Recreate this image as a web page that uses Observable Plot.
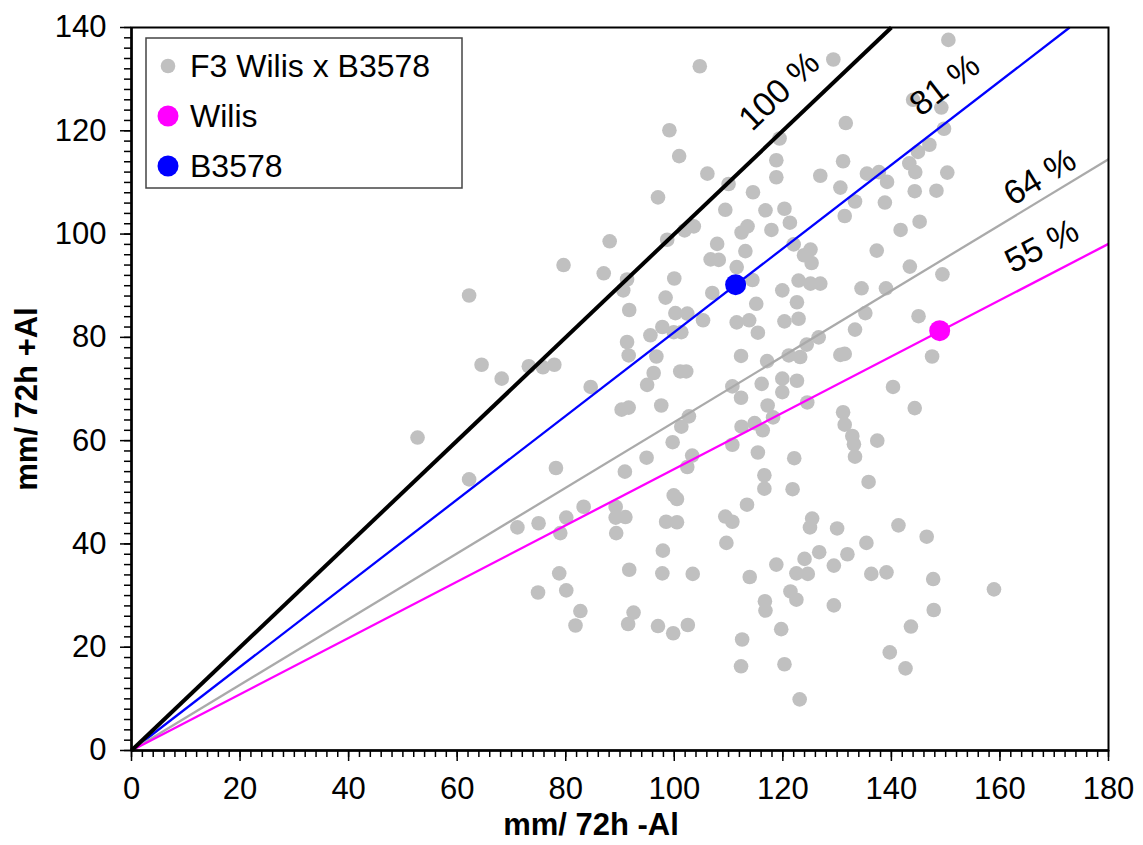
<!DOCTYPE html>
<html><head><meta charset="utf-8">
<script src="https://cdn.jsdelivr.net/npm/d3@7"></script>
<script src="https://cdn.jsdelivr.net/npm/@observablehq/plot@0.6"></script>
<style>body{margin:0;background:#fff;} svg{display:block}</style>
</head><body><div id="chart"></div>
<script>
// F3 Wilis x B3578 progeny: root growth without Al (x) and with Al (y), mm / 72 h
const f3X = [104.7,99.1,100.9,106.1,110.0,114.5,97.0,109.4,116.8,103.6,101.9,113.5,112.4,88.1,107.9,113.1,79.6,106.7,108.2,111.5,87.0,98.7,100.0,91.3,
150.5,129.3,119.4,131.6,144.0,149.2,149.7,147.0,144.9,143.3,144.4,150.3,118.8,118.8,131.1,126.9,135.5,137.7,139.2,130.6,144.3,148.3,133.3,138.8,120.3,121.3,131.4,117.9,145.2,141.7,122.0,125.1,123.9,125.3,137.3,143.4,149.4,122.9,125.1,126.9,114.4,
90.6,62.2,98.4,107.0,115.1,91.7,100.2,102.4,105.3,111.5,113.8,97.8,95.6,99.9,101.3,115.4,91.3,91.6,96.7,112.3,64.5,73.2,75.8,77.9,68.2,96.2,101.1,102.2,95.0,84.6,110.7,116.1,90.3,91.6,97.6,102.7,101.3,112.3,112.4,114.8,52.7,99.7,110.7,115.4,103.3,102.4,94.9,78.2,90.9,62.2,116.6,116.6,99.9,100.5,113.4,83.3,89.2,
119.9,134.5,139.0,122.6,120.3,122.9,135.2,145.0,133.3,126.6,124.4,117.1,121.1,123.2,130.6,131.4,147.5,119.9,122.6,119.9,117.2,118.2,124.5,140.3,144.3,131.1,131.4,116.3,132.8,133.1,133.3,137.4,122.1,121.8,135.8,
71.1,75.0,80.1,79.0,89.2,91.0,89.3,109.4,110.7,98.5,100.5,109.6,97.9,78.8,91.7,97.8,103.4,113.9,74.9,80.1,82.7,81.8,92.5,91.5,97.0,99.8,102.5,112.5,112.3,116.7,116.8,
125.4,125.0,130.0,141.3,146.5,135.4,118.8,124.0,126.7,131.9,129.4,122.5,124.6,136.3,139.1,147.7,158.9,121.4,122.5,129.4,147.8,119.7,143.6,139.7,142.6,120.3,123.1];
const f3Y = [132.5,120.1,115.1,111.7,109.7,108.1,107.1,104.7,104.6,101.5,100.7,101.5,100.3,98.6,98.1,96.7,94.0,95.1,95.0,93.6,92.4,98.9,91.4,91.2,
137.6,133.8,118.5,121.5,126.0,124.5,120.4,117.3,115.9,113.7,112.0,111.9,114.3,111.0,114.1,111.3,111.7,112.0,110.1,109.0,108.3,108.4,106.3,106.1,104.9,102.2,103.5,100.8,102.4,100.8,98.0,97.0,95.9,94.4,96.8,93.7,92.2,91.0,90.4,90.4,91.1,
89.1,88.1,87.7,88.6,86.5,85.3,84.7,84.6,83.3,82.9,83.3,82.0,80.4,81.0,81.0,80.9,79.1,76.5,76.3,76.4,74.7,74.4,74.2,74.7,72.0,73.1,73.4,73.4,70.8,70.4,70.5,71.0,66.0,66.4,66.8,64.7,62.7,68.3,62.7,63.4,60.6,59.7,59.2,57.7,57.1,54.9,56.7,54.7,54.0,52.5,53.3,50.7,49.4,48.7,47.6,47.2,47.2,
89.1,89.5,89.5,86.8,83.1,83.6,84.7,84.1,81.5,80.0,78.6,75.4,76.5,76.2,76.6,76.8,76.3,72.0,71.6,69.4,66.8,64.5,67.4,70.4,66.3,65.5,63.1,62.0,60.9,59.3,56.9,60.0,56.6,50.6,52.0,
43.2,44.0,45.1,42.1,45.1,45.2,42.1,45.3,44.3,44.3,44.2,40.2,38.7,34.3,35.0,34.3,34.2,33.6,30.6,31.0,27.0,24.2,26.7,24.5,24.1,22.7,24.3,21.5,16.3,28.9,27.1,
44.9,43.2,43.0,43.6,41.4,40.2,36.0,37.1,38.4,38.0,35.8,34.3,34.2,34.2,34.5,33.2,31.2,30.8,29.2,28.1,27.2,23.5,24.0,19.0,15.9,16.7,9.9];

const parentNames = ["Wilis", "B3578"];
const parentX = [148.9, 111.3];
const parentY = [81.3, 90.2];
const parentColors = ["#ff00ff", "#0000ff"];

const ratioLabels = ["100 %", "81 %", "64 %", "55 %"];
const ratios = [1.0, 0.81, 0.636, 0.545];
const ratioColors = ["#000000", "#0000ff", "#aaaaaa", "#ff00ff"];

const xTicks = [0, 20, 40, 60, 80, 100, 120, 140, 160, 180];
const yTicks = [0, 20, 40, 60, 80, 100, 120, 140];
const legendLabels = ["F3 Wilis x B3578", "Wilis", "B3578"];
const xTitle = "mm/ 72h -Al";
const yTitle = "mm/ 72h +Al";

// ---- layout ----
const W = 1143, H = 845;
const mL = 131, mR = 35, mT = 27, mB = 95;
const xMax = 180, yMax = 140;
const kx = (W - mL - mR) / xMax, ky = (H - mT - mB) / yMax;

const f3 = f3X.map((x, i) => ({x, y: f3Y[i]}));
const parents = parentNames.map((n, i) => ({name: n, x: parentX[i], y: parentY[i], color: parentColors[i]}));
// label placement along each line (x where text starts, vertical gap above line in px)
const labelStart = [114.3, 145.4, 162.3, 162.3];
const labelGap = [28, 25, 11, 20];
const lines = ratios.map((r, i) => {
  const x2 = Math.min(xMax, yMax / r);
  return {r, label: ratioLabels[i], color: ratioColors[i], x2, y2: x2 * r,
    lx: labelStart[i], ly: labelStart[i] * r + labelGap[i] / ky,
    angle: -Math.atan(r * ky / kx) * 180 / Math.PI};
});

const minorX = d3.range(0, xMax + 0.1, 2);
const minorY = d3.range(0, yMax + 0.1, 2);

const chart = Plot.plot({
  width: W, height: H,
  marginLeft: mL, marginRight: mR, marginTop: mT, marginBottom: mB,
  x: {domain: [0, xMax], label: null},
  y: {domain: [0, yMax], label: null},
  color: {type: "identity"},
  style: {fontFamily: "'Liberation Sans', Arial, sans-serif", fontSize: "30px", background: "white", color: "black"},
  marks: [
    Plot.dot(f3, {x: "x", y: "y", r: 7.3, fill: "#c0c0c0"}),
    Plot.link(lines.slice(1), {x1: () => 0, y1: () => 0, x2: "x2", y2: "y2", stroke: "color", strokeWidth: 2.3}),
    Plot.link(lines.slice(0, 1), {x1: () => 0, y1: () => 0, x2: "x2", y2: "y2", stroke: "color", strokeWidth: 4}),
    Plot.dot(parents, {x: "x", y: "y", r: 10.5, fill: "color"}),
    Plot.text(lines, {x: "lx", y: "ly", text: "label", rotate: "angle", textAnchor: "start", lineAnchor: "bottom", fontSize: 34, fill: "black"}),
    Plot.frame({stroke: "black", strokeWidth: 2}),
    Plot.ruleX([0], {stroke: "black", strokeWidth: 2.5}),
    Plot.ruleY([0], {stroke: "black", strokeWidth: 2.5}),
    Plot.axisX({ticks: minorX, tickSize: 7, tickFormat: () => "", strokeWidth: 1.5, label: null}),
    Plot.axisX({ticks: xTicks, tickSize: 11, tickPadding: 15, fontSize: 31, strokeWidth: 1.5, label: null}),
    Plot.axisY({ticks: minorY, tickSize: 7, tickFormat: () => "", strokeWidth: 1.5, label: null}),
    Plot.axisY({ticks: yTicks, tickSize: 11, tickPadding: 14, fontSize: 31, strokeWidth: 1.5, label: null})
  ]
});

const svg = d3.select(chart);
// axis titles
svg.append("text").attr("x", 591).attr("y", 835).attr("text-anchor", "middle")
  .attr("font-weight", "bold").attr("font-size", 31).attr("fill", "black").text(xTitle);
svg.append("text").attr("transform", "translate(37,399) rotate(-90)").attr("text-anchor", "middle")
  .attr("font-weight", "bold").attr("font-size", 31).attr("fill", "black").text(yTitle);

// legend
const lg = svg.append("g");
lg.append("rect").attr("x", 146).attr("y", 38).attr("width", 316).attr("height", 150)
  .attr("fill", "white").attr("stroke", "#444").attr("stroke-width", 1.5);
const legendFill = ["#c0c0c0", parentColors[0], parentColors[1]];
const legendR = [7.3, 10.5, 10.5];
legendLabels.forEach((t, i) => {
  const cy = 66 + i * 50;
  lg.append("circle").attr("cx", 168).attr("cy", cy).attr("r", legendR[i]).attr("fill", legendFill[i]);
  lg.append("text").attr("x", 190).attr("y", cy + 11).attr("text-anchor", "start")
    .attr("font-size", 32).attr("fill", "black").text(t);
});

document.getElementById("chart").appendChild(chart);
</script>
</body></html>
